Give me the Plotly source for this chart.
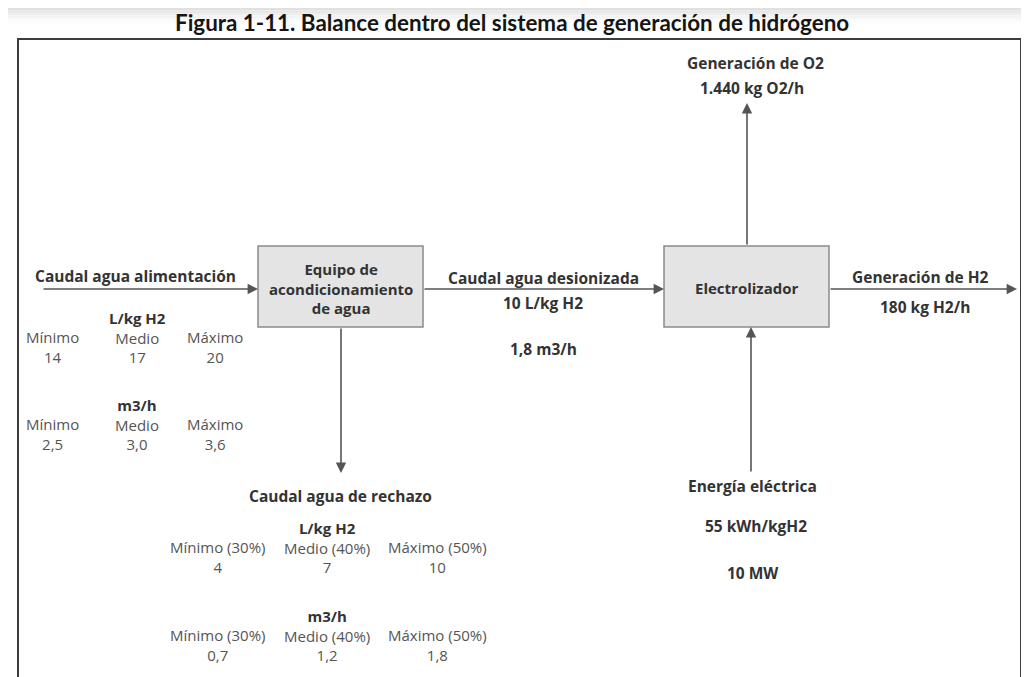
import plotly.graph_objects as go

# ---------------- data ----------------
title = "Figura 1-11. Balance dentro del sistema de generación de hidrógeno"

box_treat_label = "Equipo de<br>acondicionamiento<br>de agua"
box_elec_label = "Electrolizador"

feed_title = "Caudal agua alimentación"
feed_headers = ["Mínimo", "Medio", "Máximo"]
feed_lkg = ["14", "17", "20"]
feed_m3h = ["2,5", "3,0", "3,6"]

deion_title = "Caudal agua desionizada"
deion_values = ["10 L/kg H2", "1,8 m3/h"]

reject_title = "Caudal agua de rechazo"
reject_headers = ["Mínimo (30%)", "Medio (40%)", "Máximo (50%)"]
reject_lkg = ["4", "7", "10"]
reject_m3h = ["0,7", "1,2", "1,8"]

o2_title = "Generación de O2"
o2_value = "1.440 kg O2/h"

h2_title = "Generación de H2"
h2_value = "180 kg H2/h"

energy_title = "Energía eléctrica"
energy_values = ["55 kWh/kgH2", "10 MW"]

unit_lkg = "L/kg H2"
unit_m3h = "m3/h"

# ---------------- styles ----------------
W, H = 1029, 677
OFF = 8  # page body margin
FONT = "Open Sans, Noto Sans, DejaVu Sans, sans-serif"
DARK = "#333333"
MID = "#555555"
LINE = "#555555"
BOX_FILL = "#e4e4e4"
BOX_LINE = "#8a8a8a"
BOLD_SIZE = 15.5
REG_SIZE = 15

fig = go.Figure()
shapes = []
ann = []


def text(x, y, s, size=BOLD_SIZE, bold=False, color=None, font=FONT, xanchor="center"):
    ann.append(dict(
        x=x, y=y, xref="x", yref="y", text=("<b>%s</b>" % s) if bold else s,
        showarrow=False, xanchor=xanchor, yanchor="middle",
        font=dict(family=font, size=size, color=color or (DARK if bold else MID)),
    ))


def arrow(x0, y0, x1, y1):
    ann.append(dict(
        x=x1, y=y1, ax=x0, ay=y0, xref="x", yref="y", axref="x", ayref="y",
        text="", showarrow=True, arrowhead=2, arrowsize=1.3, arrowwidth=1.6,
        arrowcolor=LINE, standoff=0, startstandoff=0,
    ))


def table(xs, y_unit, unit, headers, values):
    """Three-column table; unit label sits over the middle column."""
    for i, (x, h, v) in enumerate(zip(xs, headers, values)):
        if i == 1:
            ann.append(dict(
                x=x, y=y_unit + 19.5, xref="x", yref="y",
                text="<span style='color:%s'><b>%s</b></span><br>%s<br>%s" % (DARK, unit, h, v),
                showarrow=False, xanchor="center", yanchor="middle",
                font=dict(family=FONT, size=REG_SIZE, color=MID),
            ))
        else:
            ann.append(dict(
                x=x, y=y_unit + 28.5, xref="x", yref="y", text="%s<br>%s" % (h, v),
                showarrow=False, xanchor="center", yanchor="middle",
                font=dict(family=FONT, size=REG_SIZE, color=MID),
            ))


# top gradient band
band_cols = ["#d0d0d0", "#d8d8d8", "#e0e0e0", "#e8e8e8", "#eeeeee", "#f3f3f3", "#f8f8f8", "#fcfcfc"]
for i, c in enumerate(band_cols):
    shapes.append(dict(type="rect", xref="x", yref="y", x0=5, x1=1040, y0=3 + i * 2.5, y1=5.5 + i * 2.5,
                       line=dict(width=0), fillcolor=c, layer="below"))

# frame
shapes.append(dict(type="line", xref="x", yref="y", x0=1023.5, x1=1023.5, y0=41, y1=700,
                   line=dict(color="#aaaaaa", width=2)))
shapes.append(dict(type="rect", xref="x", yref="y", x0=18, x1=1021, y0=39, y1=720,
                   line=dict(color="#3c3c3c", width=2), fillcolor="rgba(0,0,0,0)"))

# boxes
box1 = (258, 246, 423, 327)
box2 = (664, 246, 829, 327)
for (x0, y0, x1, y1) in (box1, box2):
    shapes.append(dict(type="rect", xref="x", yref="y", x0=x0, x1=x1, y0=y0, y1=y1,
                       line=dict(color=BOX_LINE, width=1.5), fillcolor=BOX_FILL))

# title
text(512, 22, title, size=22.4, bold=True, color="#151515",
     font="Lato, Open Sans, sans-serif")

# box labels
text((box1[0] + box1[2]) / 2, 288, box_treat_label, size=15, bold=True)
text((box2[0] + box2[2]) / 2, 288, box_elec_label, size=15, bold=True)

yf = 289
# arrows
arrow(42, yf, box1[0], yf)
arrow(box1[2], yf, box2[0], yf)
arrow(box2[2], yf, 1017, yf)
arrow(341, box1[3], 341, 473)
arrow(747, box2[1], 747, 103)
arrow(751, 473, 751, box2[3])

# feed water
text(135, 276, feed_title, bold=True)
feed_x = [52, 137, 215]
table(feed_x, 318, unit_lkg, feed_headers, feed_lkg)
table(feed_x, 405, unit_m3h, feed_headers, feed_m3h)

# deionised water
text(543, 278, deion_title, bold=True)
text(543, 303, deion_values[0], bold=True)
text(543, 349, deion_values[1], bold=True)

# reject water
text(340, 496, reject_title, bold=True)
rej_x = [217, 327, 437]
table(rej_x, 528, unit_lkg, reject_headers, reject_lkg)
table(rej_x, 616, unit_m3h, reject_headers, reject_m3h)

# O2
text(755, 63, o2_title, bold=True)
text(752, 88, o2_value, bold=True)

# H2
text(920, 277, h2_title, bold=True)
text(925, 307, h2_value, bold=True)

# energy
text(752, 486, energy_title, bold=True)
text(756, 526, energy_values[0], bold=True)
text(752, 573, energy_values[1], bold=True)

fig.update_layout(
    width=W, height=H, margin=dict(l=0, r=0, t=0, b=0),
    paper_bgcolor="white", plot_bgcolor="white",
    xaxis=dict(range=[OFF, W + OFF], visible=False, fixedrange=True),
    yaxis=dict(range=[H + OFF, OFF], visible=False, fixedrange=True),
    shapes=shapes, annotations=ann, showlegend=False,
)

fig.write_html("out.html", config={"displayModeBar": False})
